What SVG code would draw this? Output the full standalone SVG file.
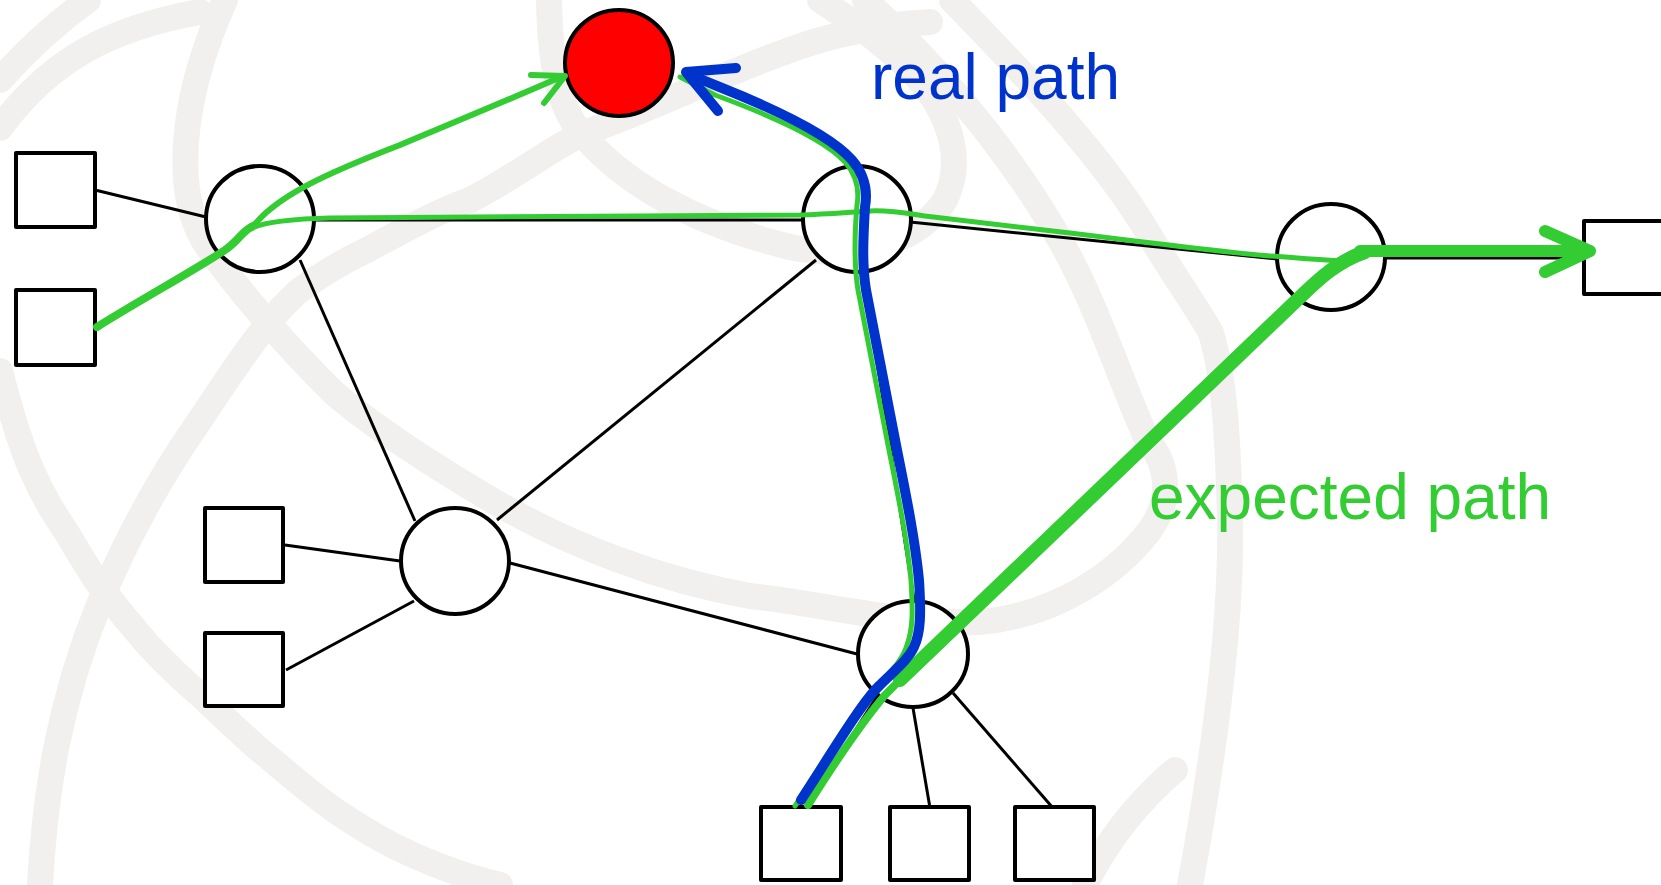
<svg xmlns="http://www.w3.org/2000/svg" width="1661" height="885" viewBox="0 0 1661 885">
<style>
.bg{fill:none;stroke:#f1f0ee;stroke-width:26;stroke-linecap:round;stroke-linejoin:round}
.edge{fill:none;stroke:#000;stroke-width:3}
.node{fill:#fff;stroke:#000;stroke-width:4}
.host{fill:#fff;stroke:#000;stroke-width:4;stroke-linejoin:round}
.gr{fill:none;stroke:#33cc33;stroke-linecap:round;stroke-linejoin:round}
.bl{fill:none;stroke:#0033cc;stroke-linecap:round;stroke-linejoin:round}
.lbl{font-family:"Liberation Sans",Arial,sans-serif;font-size:64px}
</style>
<rect width="1661" height="885" fill="#fff"/>
<g id="background">
<path class="bg" d="M0,80 Q40,35 88,0"/>
<path class="bg" d="M0,128 C50,60 110,28 200,12"/>
<path class="bg" d="M225,0 C180,100 170,200 212,253 C235,285 280,340 333,392 C370,425 440,470 500,505 C570,545 660,580 750,596 C830,605 900,625 980,622 C1060,615 1120,570 1150,530 C1175,495 1165,460 1148,442 C1120,380 1095,300 1060,240 C1020,170 960,90 883,17 L865,0"/>
<path class="bg" d="M549,0 C550,50 555,95 575,125 C620,185 700,225 790,247 C860,262 920,240 945,200 C965,160 950,110 910,70 C880,40 850,20 820,0"/>
<path class="bg" d="M40,885 C45,790 60,700 100,602 C130,530 165,470 200,420 C230,375 265,320 300,290 C330,268 350,258 367,250 C400,232 440,210 470,200 C520,175 560,140 600,127 C660,105 720,75 790,50 C830,35 880,25 930,22"/>
<path class="bg" d="M0,371 C10,410 20,445 33,473 C45,500 55,515 67,533 C80,555 90,572 100,586 C120,612 135,630 150,647 C170,668 185,682 200,695 C225,718 245,738 267,756 C290,775 310,793 333,809 C355,824 375,837 400,849 C440,868 470,878 500,885"/>
<path class="bg" d="M952,0 C1000,50 1100,150 1148,233 C1180,285 1205,320 1211,333 C1225,380 1228,440 1230,520 C1232,620 1215,750 1190,885"/>
<path class="bg" d="M1085,885 C1110,835 1140,800 1175,770"/>
</g>
<g id="connectors">
<line class="edge" x1="95" y1="190" x2="206" y2="217"/>
<line class="edge" x1="313" y1="220" x2="804" y2="220"/>
<line class="edge" x1="300" y1="260" x2="415" y2="521"/>
<line class="edge" x1="497" y1="520" x2="816" y2="260"/>
<line class="edge" x1="510" y1="563" x2="857" y2="654"/>
<line class="edge" x1="285" y1="545" x2="400" y2="561"/>
<line class="edge" x1="286" y1="670" x2="414" y2="601"/>
<line class="edge" x1="910" y1="222" x2="1277" y2="259"/>
<line class="edge" x1="1385" y1="258" x2="1584" y2="258"/>
<line class="edge" x1="878" y1="695" x2="805" y2="808"/>
<line class="edge" x1="913" y1="708" x2="930" y2="808"/>
<line class="edge" x1="953" y1="693" x2="1053" y2="808"/>
<line class="edge" x1="866" y1="290" x2="914" y2="600"/>
</g>
<g id="n1"><ellipse class="node" cx="260" cy="219" rx="54" ry="53"/></g>
<g id="n2"><ellipse class="node" cx="857" cy="219" rx="54" ry="53"/></g>
<g id="n3"><ellipse class="node" cx="1331" cy="257" rx="54" ry="53"/></g>
<g id="n4"><ellipse class="node" cx="455" cy="561" rx="54" ry="53"/></g>
<g id="n5"><ellipse class="node" cx="913" cy="654" rx="55" ry="53"/></g>
<g id="target"><ellipse cx="619" cy="63" rx="54" ry="53" fill="#ff0000" stroke="#000" stroke-width="4"/></g>
<g id="s1"><rect class="host" x="16" y="153" width="79" height="74"/></g>
<g id="s2"><rect class="host" x="16" y="290" width="79" height="75"/></g>
<g id="s3"><rect class="host" x="205" y="508" width="78" height="74"/></g>
<g id="s4"><rect class="host" x="205" y="633" width="78" height="73"/></g>
<g id="s5"><rect class="host" x="1584" y="221" width="100" height="73"/></g>
<g id="s6"><rect class="host" x="761" y="807" width="80" height="73"/></g>
<g id="s7"><rect class="host" x="890" y="807" width="79" height="73"/></g>
<g id="s8"><rect class="host" x="1015" y="807" width="79" height="73"/></g>
<g id="paths">
<path class="gr" stroke-width="8" d="M97,327 C140,300 195,270 225,250 C240,240 242,230 255,225"/>
<path class="gr" stroke-width="6" d="M252,228 C275,196 330,172 400,145 C460,120 520,95 563,76"/>
<polyline class="gr" stroke-width="6" points="531,75 565,76 544,103"/>
<path class="gr" stroke-width="5" d="M252,228 C265,222 290,219 330,218 L800,215 C830,214 850,212 870,211 C890,210 905,213 925,216 L1070,233 C1150,243 1230,253 1270,256 C1300,258 1330,261 1350,261"/>
<path class="gr" stroke-width="8" d="M808,805 C830,770 860,725 885,695 C892,688 898,682 905,675"/>
<path class="gr" stroke-width="14" d="M900,680 L1297,300 C1315,283 1335,262 1365,252"/>
<path class="gr" stroke-width="12" d="M1360,251 L1588,251"/>
<polyline class="gr" stroke-width="12" points="1545,231 1590,251 1545,272"/>
<path class="gr" stroke-width="5" d="M795,806 C830,750 858,705 875,688 C890,672 903,660 907,645 C913,628 913,612 911,580 C907,540 899,500 889,450 L858,290 C854,265 854,240 857,205 C860,188 856,175 845,162 C825,140 775,117 715,95 L680,77"/>
<path class="bl" stroke-width="10" d="M801,800 C835,748 862,702 880,685 C895,670 908,660 914,647 C921,632 921,612 919,580 C915,540 907,500 897,450 L866,290 C862,265 863,240 865,207 C868,190 864,174 852,160 C832,137 782,112 722,88 L688,74"/>
<polyline class="bl" stroke-width="10" points="736,68 686,72 718,111"/>
</g>
<g id="labels">
<text class="lbl" x="871" y="99" fill="#0033cc">real path</text>
<text class="lbl" x="1149" y="519" fill="#33cc33">expected path</text>
</g>
</svg>
